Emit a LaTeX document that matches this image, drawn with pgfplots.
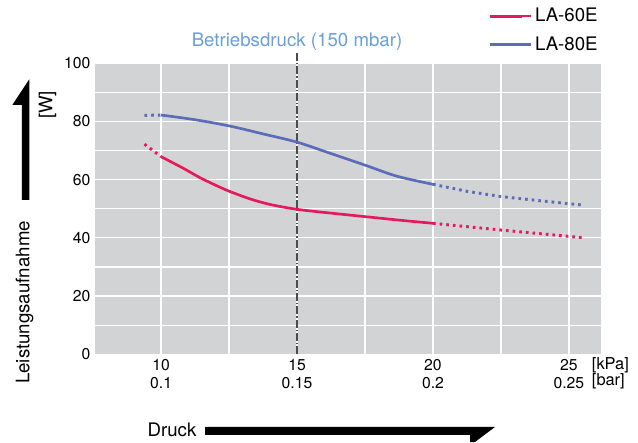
\documentclass[border=0pt]{standalone}
\usepackage{fontspec}
\setmainfont{TeX Gyre Heros}
\usepackage{pgfplots}
\pgfplotsset{compat=1.18}

\definecolor{redline}{HTML}{E6195A}
\definecolor{blueline}{HTML}{5B6CB8}
\definecolor{bggray}{HTML}{D2D3D5}
\definecolor{titleblue}{HTML}{6A9FD8}

\begin{document}
\begin{tikzpicture}[font=\fontsize{14}{16}\selectfont]
\begin{axis}[
    at={(0,0)}, anchor=south west,
    scale only axis,
    width=379.5pt, height=218.25pt,
    xmin=7.57, xmax=26.18,
    ymin=0, ymax=100,
    xtick={10,15,20,25},
    xticklabels={{10\\0.1},{15\\0.15},{20\\0.2},{25\\0.25}},
    tick label style={font=\fontsize{11.8}{13.6}\selectfont},
    xticklabel style={align=center},
    minor xtick={12.5,17.5,22.5},
    ytick={0,20,...,100},
    minor ytick={10,30,...,90},
    grid=both,
    grid style={white, line width=0.9pt},
    minor grid style={white, line width=0.9pt},
    axis line style={draw=none},
    tick style={draw=none},
    axis background/.style={fill=bggray},
    /pgf/number format/assume math mode=true,
    clip=false,
    legend image code/.code={\draw[#1, line width=2.2pt] (0pt,0pt) -- (24.5pt,0pt);
        \path (0pt,0pt) -- (31pt,0pt);},
    legend cell align=left,
    legend style={draw=none, fill=none, at={(axis cs:21.88,120.8)}, anchor=north west,
        row sep=5.5pt, font=\fontsize{14}{16}\selectfont},
]
% operating point
\draw[black!70, line width=0.8pt, dash pattern=on 6pt off 1.5pt on 1pt off 1.5pt]
    (axis cs:15,0) -- (axis cs:15,104);
\node[titleblue] at (axis cs:15,107.3) {Betriebsdruck (150 mbar)};

\addplot[redline, line width=2pt, smooth, tension=0.5] coordinates {
    (10,67.9) (10.82,63.9) (11.43,60.7) (12.05,57.9) (12.54,55.9) (13.27,53.4)
    (14.0,51.5) (15,49.8) (16.25,48.5) (17.5,47.3) (18.75,46.1) (20,45.0)};
\addlegendentry{LA-60E}
\addplot[blueline, line width=2pt, smooth, tension=0.5] coordinates {
    (10,82.2) (11.25,80.6) (12.54,78.4) (13.76,75.7) (15,72.9)
    (16.21,69.1) (17.5,65.0) (18.67,61.2) (20,58.4)};
\addlegendentry{LA-80E}

\addplot[redline, line width=2.2pt, dash pattern=on 2pt off 3pt, forget plot]
    coordinates {(9.39,72.2) (10,67.9)};
\addplot[redline, line width=2.2pt, dash pattern=on 2pt off 3pt, forget plot]
    coordinates {(20,45.0) (22.5,42.7) (25.47,40.1)};
\addplot[blueline, line width=2.2pt, dash pattern=on 2pt off 3pt, forget plot]
    coordinates {(9.39,82.1) (10,82.2)};
\addplot[blueline, line width=2.2pt, dash pattern=on 2pt off 3pt, forget plot]
    coordinates {(20,58.4) (21.25,56) (22.5,54.2) (24,52.7) (25.47,51.3)};
\end{axis}

% units next to the x tick labels
\begin{scope}[font=\fontsize{12.3}{14}\selectfont]
\node[anchor=west, inner sep=0pt] at (372.5pt,-8.6pt) {[kPa]};
\node[anchor=west, inner sep=0pt] at (372.5pt,-20.4pt) {[bar]};
\end{scope}

% y axis label and arrow
\node[rotate=90] at (-52.9pt,38.9pt) {Leistungsaufnahme};
\node[rotate=90] at (-35.5pt,187pt) {[W]};
\fill[black] (-54.75pt,115.7pt) -- (-49.3pt,115.7pt) -- (-49.3pt,206.25pt)
    -- (-62pt,187pt) -- (-54.75pt,187pt) -- cycle;

% x axis label and arrow
\node at (57.75pt,-56.8pt) {Druck};
\fill[black] (82.5pt,-54.5pt) -- (300pt,-54.5pt) -- (285pt,-65.8pt)
    -- (281.25pt,-65.8pt) -- (281.25pt,-60.5pt) -- (82.5pt,-60.5pt) -- cycle;

\pgfresetboundingbox
\path (-71.25pt,-65.8pt) rectangle (407.25pt,265.7pt);
\end{tikzpicture}
\end{document}
